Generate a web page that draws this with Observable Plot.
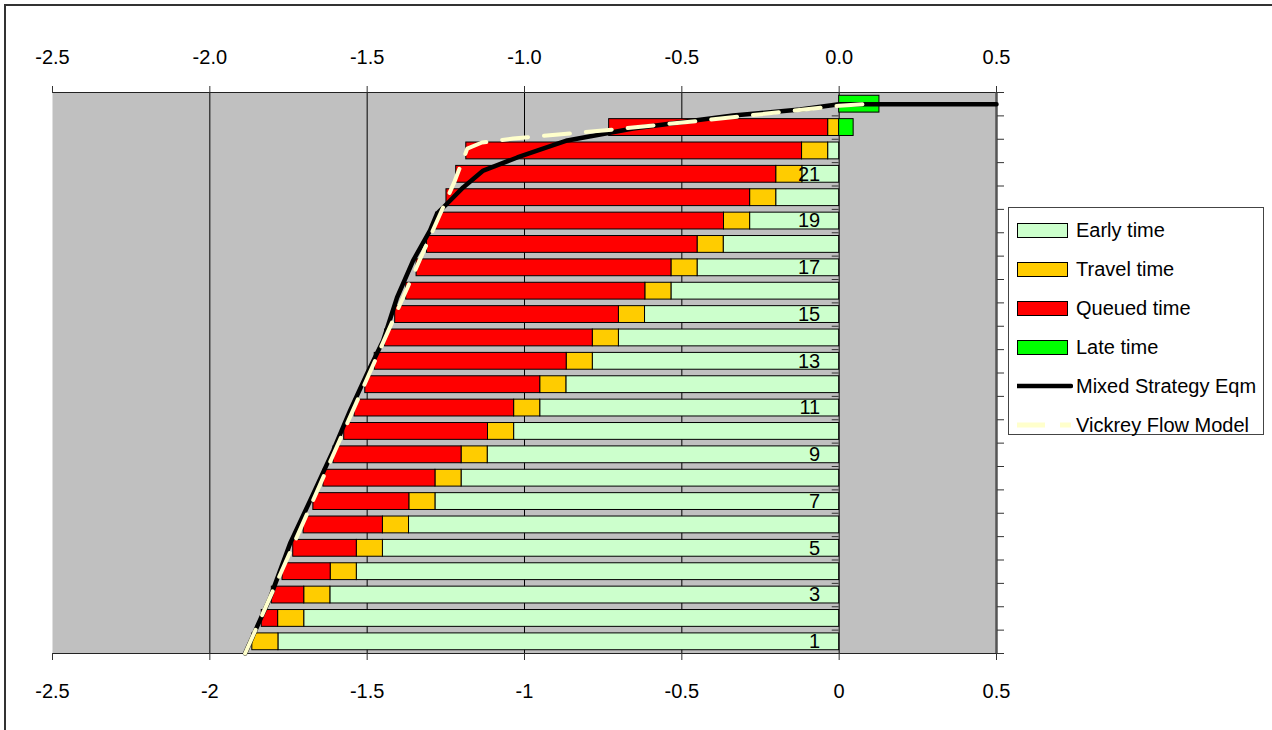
<!DOCTYPE html>
<html><head><meta charset="utf-8">
<script src="https://cdn.jsdelivr.net/npm/d3@7"></script>
<script src="https://cdn.jsdelivr.net/npm/@observablehq/plot@0.6"></script>
<style>
body{margin:0;background:#fff;font-family:"Liberation Sans",Arial,sans-serif;}
#wrap{position:relative;width:1272px;height:730px;overflow:hidden;}
#frame{position:absolute;left:4px;top:4px;width:1300px;height:800px;border-left:2px solid #333;border-top:2px solid #333;box-sizing:border-box;}
#chart{position:absolute;left:0;top:0;}
#legend{position:absolute;left:1008px;top:207px;width:256px;height:228px;border:1px solid #444;background:#fff;box-sizing:border-box;}
.item{position:absolute;left:0;height:30px;width:250px;}
.sw{position:absolute;left:8px;top:8px;width:51px;height:15px;border:1px solid #000;box-sizing:border-box;}
.lbl{position:absolute;left:67px;top:3px;font-size:20px;line-height:24px;color:#000;white-space:nowrap;}
.ln{position:absolute;left:8px;top:5px;}
</style></head>
<body>
<div id="wrap">
  <div id="frame"></div>
  <div id="chart"></div>
  <div id="legend"></div>
</div>
<script>
// ---- data ----
const rows = [1,2,3,4,5,6,7,8,9,10,11,12,13,14,15,16,17,18,19,20,21,22,23,24];
const earlyTime  = [1.782,1.700,1.617,1.533,1.450,1.367,1.283,1.200,1.117,1.033,0.950,0.867,0.783,0.700,0.617,0.533,0.450,0.367,0.283,0.200,0.117,0.035,0,0];
const travelTime = [0.083,0.083,0.083,0.083,0.083,0.083,0.083,0.083,0.083,0.083,0.083,0.083,0.083,0.083,0.083,0.083,0.083,0.083,0.083,0.083,0.083,0.083,0.035,0];
const queuedTime = [0,0.052,0.103,0.153,0.202,0.252,0.305,0.356,0.407,0.457,0.507,0.556,0.61,0.66,0.711,0.76,0.81,0.86,0.915,0.965,1.017,1.067,0.696,0];
const lateTime   = [0,0,0,0,0,0,0,0,0,0,0,0,0,0,0,0,0,0,0,0,0,0,0.046,0.128];

const mixedX = [-1.888,-1.808,-1.745,-1.681,-1.608,-1.554,-1.500,-1.449,-1.405,-1.354,-1.300,-1.278,-1.236,-1.195,-1.131,-1.023,-0.864,-0.655,-0.337,-0.124,0,0.5];
const mixedY = [0.5,2.9,5.21,7.05,9.18,10.9,12.48,13.89,15.73,17.31,18.6,19.32,19.88,20.44,21.16,21.72,22.45,22.96,23.52,23.77,24.0,24.0];
const vickreyX = [-1.888,-1.222,-1.205,-1.195,-1.182,-1.135,-1.036,-0.760,-0.442,-0.146,0,0.115];
const vickreyY = [0.5,20.7,21.3,21.6,22.1,22.36,22.53,22.86,23.29,23.72,23.93,24.03];

const xTicks = [-2.5,-2.0,-1.5,-1.0,-0.5,0,0.5];
const gridX = [-2.0,-1.5,-1.0,-0.5,0];
const rowLabels = [1,3,5,7,9,11,13,15,17,19,21];
const rowBounds = [0.5,1.5,2.5,3.5,4.5,5.5,6.5,7.5,8.5,9.5,10.5,11.5,12.5,13.5,14.5,15.5,16.5,17.5,18.5,19.5,20.5,21.5,22.5,23.5,24.5];

const legendItems = [
  {label:"Early time", type:"rect", color:"#ccffcc"},
  {label:"Travel time", type:"rect", color:"#ffcc00"},
  {label:"Queued time", type:"rect", color:"#ff0000"},
  {label:"Late time", type:"rect", color:"#00ff00"},
  {label:"Mixed Strategy Eqm", type:"line", color:"#000"},
  {label:"Vickrey Flow Model", type:"dash", color:"#ffffcc"}
];

// ---- build segments (stacked like a spreadsheet bar chart) ----
const half = 0.36;
const table = rows.map((r,i) => ({
  row: r, early: earlyTime[i], travel: travelTime[i], queued: queuedTime[i], late: lateTime[i]
}));
const earlySeg = table.filter(d => d.early > 0).map(d => ({row:d.row, x1:-d.early, x2:0}));
const travelSeg = table.filter(d => d.travel > 0).map(d => ({row:d.row, x1:-d.early-d.travel, x2:-d.early}));
const queuedSeg = table.filter(d => d.queued > 0).map(d => ({row:d.row, x1:-d.early-d.travel-d.queued, x2:-d.early-d.travel}));
const lateSeg = table.filter(d => d.late > 0).map(d => ({row:d.row, x1:0, x2:d.late}));
const mixed = mixedX.map((x,i) => ({x, y: mixedY[i]}));
const vickrey = vickreyX.map((x,i) => ({x, y: vickreyY[i]}));

const barOpts = (fill) => ({x1:"x1", x2:"x2", y1: d => d.row - half, y2: d => d.row + half, fill, stroke:"#000", strokeWidth:1});

const chart = Plot.plot({
  width: 1272, height: 730,
  marginLeft: 52, marginRight: 276, marginTop: 92, marginBottom: 77,
  style: {fontFamily: "Liberation Sans, Arial, sans-serif", fontSize: "20px", background: "transparent", overflow: "visible"},
  x: {domain: [-2.5, 0.5]},
  y: {domain: [0.5, 24.5]},
  marks: [
    Plot.frame({fill: "#c0c0c0", stroke: "none"}),
    Plot.ruleX(gridX, {stroke: "#000", strokeWidth: 1}),
    Plot.ruleY([0.5, 24.5], {stroke: "#222", strokeWidth: 1.2}),
    Plot.ruleX([0.5], {stroke: "#555", strokeWidth: 2.5}),
    Plot.ruleY(rowBounds.slice(1, 24), {x1: -0.022, x2: 0, stroke: "#333", strokeWidth: 1}),
    Plot.rect(earlySeg, barOpts("#ccffcc")),
    Plot.rect(travelSeg, barOpts("#ffcc00")),
    Plot.rect(queuedSeg, barOpts("#ff0000")),
    Plot.rect(lateSeg, barOpts("#00ff00")),
    Plot.text(rowLabels, {x: 0, y: d => d, text: d => String(d), dx: -19, textAnchor: "end", fontSize: 20, fill: "#000"}),
    Plot.line(mixed, {x: "x", y: "y", stroke: "#000", strokeWidth: 4.5, strokeLinejoin: "round"}),
    Plot.line(vickrey, {x: "x", y: "y", stroke: "#ffffcc", strokeWidth: 4, strokeDasharray: "26,16"}),
    Plot.axisX({anchor: "top", ticks: xTicks, tickFormat: d => d.toFixed(1), tickSize: 7, tickPadding: 22, fontSize: 20, stroke: "#333", label: null}),
    Plot.axisX({anchor: "bottom", ticks: xTicks, tickFormat: d => String(d), tickSize: 7, tickPadding: 23, fontSize: 20, stroke: "#333", label: null}),
    Plot.axisY({anchor: "right", ticks: rowBounds, tickSize: 7, tickFormat: () => "", stroke: "#333", label: null})
  ]
});
document.getElementById("chart").appendChild(chart);

// ---- legend ----
const leg = d3.select("#legend");
legendItems.forEach((it, i) => {
  const item = leg.append("div").attr("class", "item").style("top", (7 + i * 39) + "px");
  if (it.type === "rect") {
    item.append("div").attr("class", "sw").style("background", it.color);
  } else {
    const svg = item.append("svg").attr("class", "ln").attr("width", 56).attr("height", 20);
    svg.append("line").attr("x1", 0).attr("x2", 54).attr("y1", 10).attr("y2", 10)
      .attr("stroke", it.color).attr("stroke-width", it.type === "line" ? 4.5 : 5)
      .attr("stroke-linecap", it.type === "line" ? "round" : "butt")
      .attr("stroke-dasharray", it.type === "dash" ? "28,15" : null);
  }
  item.append("div").attr("class", "lbl").text(it.label);
});
</script>
</body></html>
